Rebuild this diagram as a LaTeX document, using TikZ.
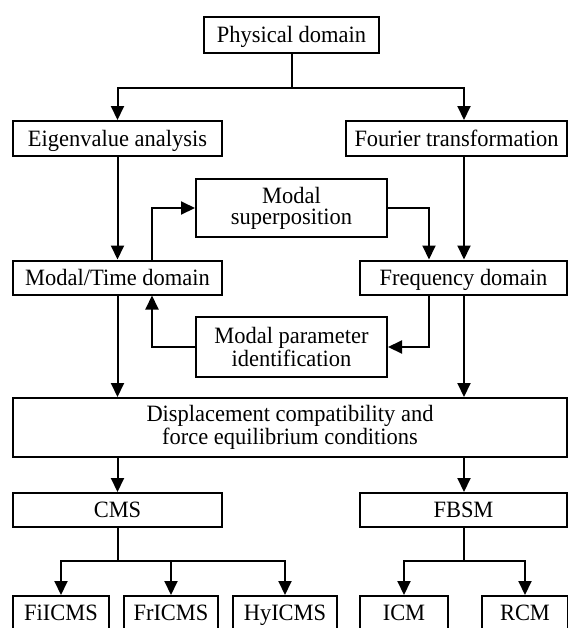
\documentclass[tikz,border=0pt]{standalone}
\usepackage{fontspec}
\setmainfont{Liberation Serif}[FakeStretch=0.96]
\usetikzlibrary{arrows.meta}
\begin{document}
\begin{tikzpicture}[x=0.5pt, y=-0.5pt, line width=1pt,
  box/.style={draw, inner sep=0pt, align=center, font=\fontsize{11.7}{10.5}\selectfont},
  one/.style={box, text height=7.8pt, text depth=0.2pt},
  arr/.style={-{Triangle[length=7pt,width=6.5pt]}}]
\useasboundingbox (0,0) rectangle (568,628);
\clip (0,0) rectangle (568,628);
% boxes
\node[one, minimum width=87.5pt, minimum height=18pt] (phys) at (291.5,35) {Physical domain};
\node[one, minimum width=104.5pt, minimum height=17.5pt] (eig) at (117.5,138.5) {Eigenvalue analysis};
\node[one, minimum width=110.5pt, minimum height=17.5pt] (four) at (456.5,138.5) {Fourier transformation};
\node[box, minimum width=95.5pt, minimum height=29pt] (sup) at (291.5,208) {Modal\\superposition};
\node[one, minimum width=104.5pt, minimum height=17pt] (mtd) at (117.5,277.5) {Modal/Time domain};
\node[one, minimum width=103.5pt, minimum height=17pt] (freq) at (463.5,277.5) {Frequency domain};
\node[box, minimum width=95.5pt, minimum height=30pt] (par) at (291.5,347) {Modal parameter\\identification};
\node[box, minimum width=277pt, minimum height=29.5pt] (disp) at (290,427.5) {Displacement compatibility and\\force equilibrium conditions};
\node[one, minimum width=104.5pt, minimum height=17pt] (cms) at (117.5,510) {CMS};
\node[one, minimum width=103.5pt, minimum height=17pt] (fbsm) at (463.5,510) {FBSM};
\node[one, minimum width=48pt, minimum height=16.5pt] (fil) at (61,612.5) {FiICMS};
\node[one, minimum width=47pt, minimum height=16.5pt] (fri) at (171,612.5) {FrICMS};
\node[one, minimum width=52pt, minimum height=16.5pt] (hyi) at (285,612.5) {HyICMS};
\node[one, minimum width=44pt, minimum height=16.5pt] (icm) at (404,612.5) {ICM};
\node[one, minimum width=43pt, minimum height=16.5pt] (rcm) at (525,612.5) {RCM};
% columns
\coordinate (rx) at (464,0);
\coordinate (ax) at (152,0);
\coordinate (bx) at (429,0);
% connectors
\draw (phys.south) -- ++(0,34) coordinate (split1);
\draw[arr] (split1) -| (eig.north);
\draw[arr] (split1) -| (four.north -| rx);
\draw[arr] (eig) -- (mtd);
\draw[arr] (four.south -| rx) -- (freq.north -| rx);
\draw[arr] (mtd.north -| ax) |- (sup.west);
\draw[arr] (sup.east) -| (freq.north -| bx);
\draw[arr] (freq.south -| bx) |- (par.east);
\draw[arr] (par.west) -| (mtd.south -| ax);
\draw[arr] (mtd.south) -- (disp.north -| mtd.south);
\draw[arr] (freq.south -| rx) -- (disp.north -| rx);
\draw[arr] (disp.south -| cms.north) -- (cms.north);
\draw[arr] (disp.south -| rx) -- (fbsm.north -| rx);
\draw (cms.south) -- ++(0,33) coordinate (split2);
\foreach \n in {fil,fri,hyi} \draw[arr] (split2) -| (\n.north);
\draw (fbsm.south) -- ++(0,33) coordinate (split3);
\foreach \n in {icm,rcm} \draw[arr] (split3) -| (\n.north);
\end{tikzpicture}
\end{document}
